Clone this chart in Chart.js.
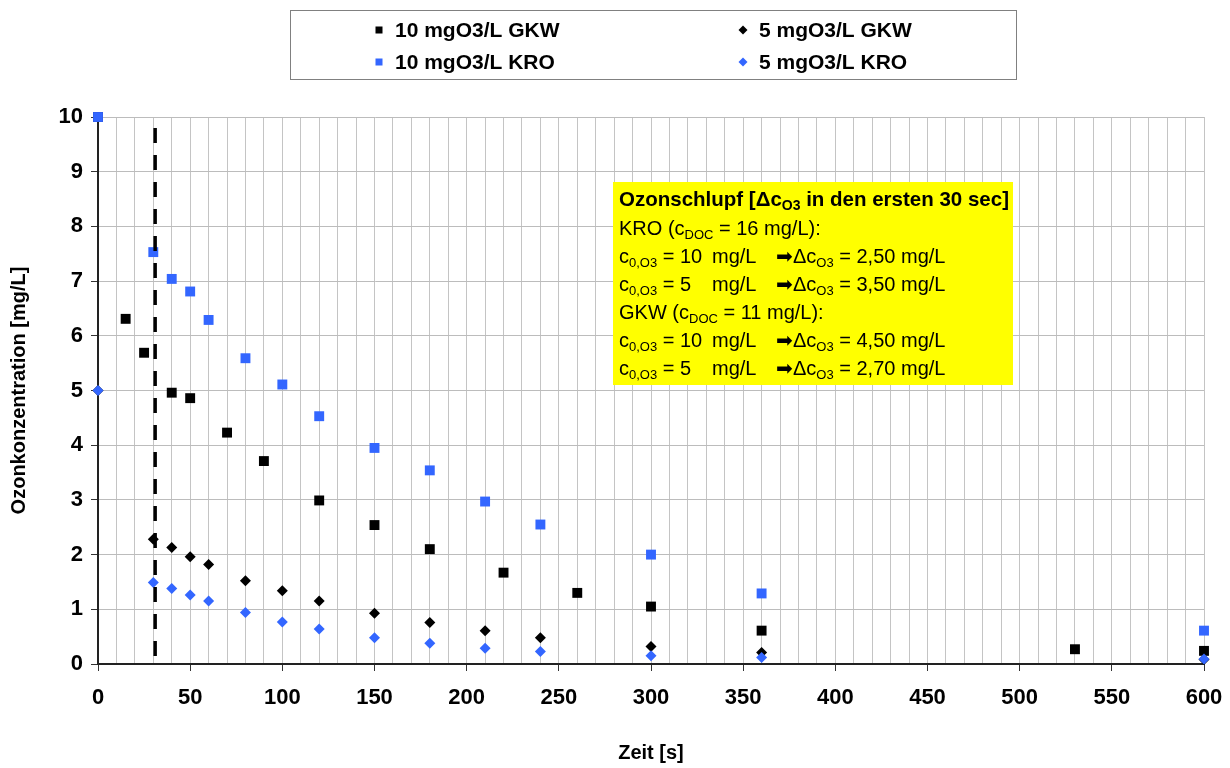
<!DOCTYPE html>
<html>
<head>
<meta charset="utf-8">
<script src="https://cdn.jsdelivr.net/npm/chart.js@4.4.1/dist/chart.umd.min.js"></script>
<style>
  html, body { margin: 0; background: #fff; }
</style>
</head>
<body>
<canvas id="myChart" width="1230" height="768"></canvas>
<script>
// Messwerte (Zeit in s, Ozon in mg/L)
const serien = ['10 mgO3/L GKW', '5 mgO3/L GKW', '10 mgO3/L KRO', '5 mgO3/L KRO'];
const zeitGKW10 = [0, 15, 25, 40, 50, 70, 90, 120, 150, 180, 220, 260, 300, 360, 530, 600];
const ozonGKW10 = [10, 6.31, 5.69, 4.96, 4.86, 4.23, 3.71, 2.99, 2.54, 2.10, 1.67, 1.30, 1.05, 0.61, 0.27, 0.24];
const zeitKRO10 = [0, 30, 40, 50, 60, 80, 100, 120, 150, 180, 210, 240, 300, 360, 600];
const ozonKRO10 = [10, 7.53, 7.04, 6.81, 6.29, 5.59, 5.11, 4.53, 3.95, 3.54, 2.97, 2.55, 2.00, 1.29, 0.61];
const zeit5 = [0, 30, 40, 50, 60, 80, 100, 120, 150, 180, 210, 240, 300, 360, 600];
const ozonGKW5 = [5, 2.28, 2.13, 1.96, 1.82, 1.52, 1.34, 1.15, 0.93, 0.76, 0.61, 0.48, 0.32, 0.21, 0.08];
const ozonKRO5 = [5, 1.49, 1.38, 1.26, 1.15, 0.94, 0.77, 0.64, 0.48, 0.38, 0.29, 0.23, 0.15, 0.12, 0.09];
// Markierung 30 sec
const grenzeX = [31, 31];
const grenzeY = [9.8, 0];
const xBeschriftung = [0, 50, 100, 150, 200, 250, 300, 350, 400, 450, 500, 550, 600];
const yBeschriftung = [0, 1, 2, 3, 4, 5, 6, 7, 8, 9, 10];

const FONT = "'Liberation Sans', Arial, sans-serif";
const BLAU = '#3366ff';

const punkte = (xs, ys) => xs.map((x, i) => ({ x: x, y: ys[i] }));

// Legende mit Rahmen oben
const legende = {
  id: 'legende',
  afterDraw(chart) {
    const ctx = chart.ctx;
    ctx.save();
    ctx.strokeStyle = '#808080';
    ctx.lineWidth = 1;
    ctx.strokeRect(290.5, 10.5, 726, 69);
    const pos = [[379, 30], [743, 30], [379, 62], [743, 62]];
    ctx.font = 'bold 21px ' + FONT;
    ctx.textBaseline = 'middle';
    serien.forEach((name, i) => {
      const [x, y] = pos[i];
      ctx.fillStyle = i < 2 ? '#000' : BLAU;
      if (i % 2 === 0) {
        ctx.fillRect(x - 3.5, y - 3.5, 7, 7);
      } else {
        ctx.beginPath();
        ctx.moveTo(x, y - 4.5); ctx.lineTo(x + 4.5, y); ctx.lineTo(x, y + 4.5); ctx.lineTo(x - 4.5, y);
        ctx.closePath(); ctx.fill();
      }
      ctx.fillStyle = '#000';
      ctx.fillText(name, x + 16, y + 1);
    });
    ctx.restore();
  }
};

// Textfeld Ozonschlupf
function zeile(ctx, teile, x, y, gewicht, gr, grSub) {
  teile.forEach(t => {
    if (t.tab !== undefined) { x = t.tab; return; }
    if (t.sub) {
      ctx.font = gewicht + ' ' + grSub + 'px ' + FONT;
      ctx.fillText(t.sub, x, y + 6);
      x += ctx.measureText(t.sub).width;
    } else {
      ctx.font = gewicht + ' ' + gr + 'px ' + FONT;
      ctx.fillText(t.t, x, y);
      x += ctx.measureText(t.t).width;
    }
  });
  return x;
}

const textfeld = {
  id: 'textfeld',
  afterDraw(chart) {
    const ctx = chart.ctx;
    ctx.save();
    ctx.fillStyle = '#ffff00';
    ctx.fillRect(613, 182, 400, 203);
    ctx.fillStyle = '#000';
    ctx.textBaseline = 'middle';
    const x0 = 619;
    zeile(ctx, [{ t: 'Ozonschlupf [\u0394c' }, { sub: 'O3' }, { t: ' in den ersten 30 sec]' }], x0, 200, 'bold', 20.5, 14);
    zeile(ctx, [{ t: 'KRO (c' }, { sub: 'DOC' }, { t: ' = 16 mg/L):' }], x0, 229, 'normal', 20, 13);
    zeile(ctx, [{ t: 'GKW (c' }, { sub: 'DOC' }, { t: ' = 11 mg/L):' }], x0, 313, 'normal', 20, 13);
    const reihen = [['10', '2,50', 257], ['5', '3,50', 285], ['10', '4,50', 341], ['5', '2,70', 369]];
    reihen.forEach(([c0, dc, y]) => {
      zeile(ctx, [{ t: 'c' }, { sub: '0,O3' }, { t: ' = ' + c0 }, { tab: 712 }, { t: 'mg/L' },
                  { tab: 776 }, { t: '\u27A1' }, { tab: 793 }, { t: '\u0394c' }, { sub: 'O3' },
                  { t: ' = ' + dc + ' mg/L' }], x0, y, 'normal', 20, 13);
    });
    ctx.restore();
  }
};

const ctx = document.getElementById('myChart');
new Chart(ctx, {
  type: 'scatter',
  data: {
    datasets: [
      {
        label: 'Grenze',
        data: punkte(grenzeX, grenzeY),
        showLine: true,
        borderColor: '#000',
        borderWidth: 3.5,
        borderDash: [15, 12],
        pointRadius: 0,
        order: 0
      },
      {
        label: serien[3],
        data: punkte(zeit5, ozonKRO5),
        pointStyle: 'rectRot',
        pointRadius: 5.5,
        backgroundColor: BLAU,
        borderColor: BLAU,
        borderWidth: 0,
        order: 1
      },
      {
        label: serien[2],
        data: punkte(zeitKRO10, ozonKRO10),
        pointStyle: 'rect',
        pointRadius: 7,
        backgroundColor: BLAU,
        borderColor: BLAU,
        borderWidth: 0,
        order: 2
      },
      {
        label: serien[1],
        data: punkte(zeit5, ozonGKW5),
        pointStyle: 'rectRot',
        pointRadius: 5.5,
        backgroundColor: '#000',
        borderColor: '#000',
        borderWidth: 0,
        order: 3
      },
      {
        label: serien[0],
        data: punkte(zeitGKW10, ozonGKW10),
        pointStyle: 'rect',
        pointRadius: 7,
        backgroundColor: '#000',
        borderColor: '#000',
        borderWidth: 0,
        order: 4
      }
    ]
  },
  options: {
    responsive: false,
    animation: false,
    clip: false,
    layout: { padding: { top: 117, right: 26, left: 0, bottom: 0 } },
    plugins: {
      legend: { display: false },
      tooltip: { enabled: false }
    },
    scales: {
      x: {
        type: 'linear',
        min: 0,
        max: 600,
        afterFit: s => { s.height = 104; s.paddingRight = 0; s.paddingLeft = 0; },
        afterBuildTicks: s => {
          const t = [];
          for (let v = 0; v <= 600; v += 10) t.push({ value: v });
          s.ticks = t;
        },
        ticks: {
          autoSkip: false,
          maxRotation: 0,
          padding: 14,
          color: '#000',
          font: { family: FONT, size: 22, weight: 'bold' },
          callback: v => xBeschriftung.includes(v) ? String(v) : ''
        },
        grid: {
          color: '#c4c4c4',
          lineWidth: 1,
          tickLength: 7,
          tickColor: c => xBeschriftung.includes(c.tick.value) ? '#333' : 'rgba(0,0,0,0)'
        },
        border: { color: '#222', width: 2 },
        title: {
          display: true,
          text: 'Zeit [s]',
          color: '#000',
          font: { family: FONT, size: 20, weight: 'bold' },
          padding: { top: 0, bottom: 3 }
        }
      },
      y: {
        min: 0,
        max: 10,
        afterFit: s => { s.width = 98; s.paddingTop = 0; s.paddingBottom = 0; },
        afterBuildTicks: s => { s.ticks = yBeschriftung.map(v => ({ value: v })); },
        ticks: {
          padding: 8,
          color: '#000',
          font: { family: FONT, size: 22, weight: 'bold' }
        },
        grid: {
          color: '#bcbcbc',
          lineWidth: 1,
          tickLength: 7,
          tickColor: '#333'
        },
        border: { color: '#222', width: 2 },
        title: {
          display: true,
          text: 'Ozonkonzentration [mg/L]',
          color: '#000',
          font: { family: FONT, size: 20, weight: 'bold' },
          padding: { top: 7, bottom: 0 }
        }
      }
    }
  },
  plugins: [legende, textfeld]
});
</script>
</body>
</html>
